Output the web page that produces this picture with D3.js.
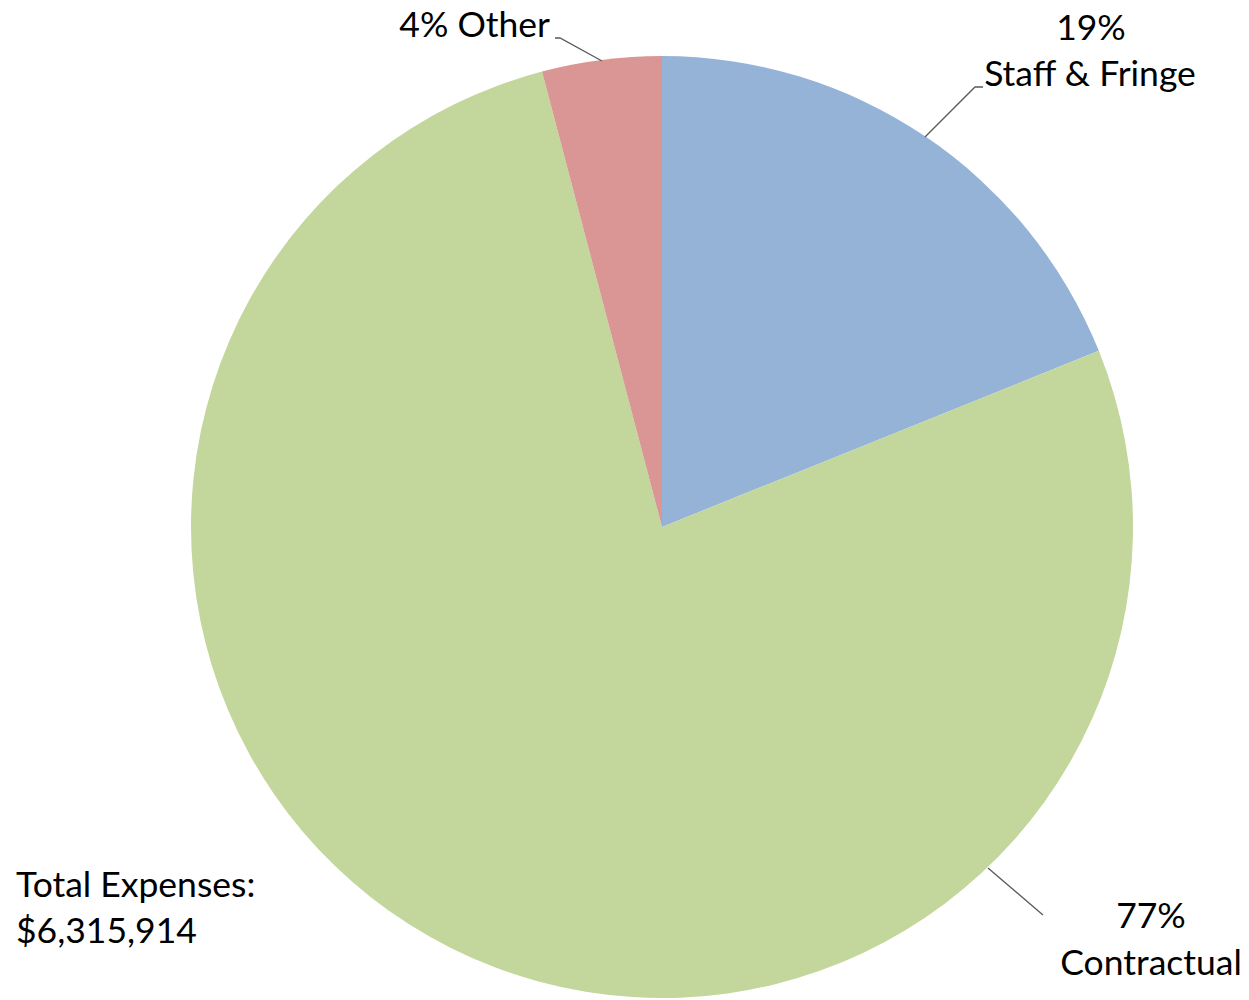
<!DOCTYPE html>
<html><head><meta charset="utf-8">
<script src="https://cdn.jsdelivr.net/npm/d3@7"></script>
<style>body{margin:0;background:#fff}svg{display:block}text{font-family:Lato,"Open Sans",sans-serif;fill:#000}</style>
</head><body>
<svg id="c" width="1249" height="1000"></svg>
<script>
const categories = ["Staff & Fringe", "Contractual", "Other"];
const values = [18.9, 77.0, 4.1];
const pctLabels = ["19%", "77%", "4%"];
const colors = ["#95B3D7", "#C3D69B", "#D99694"];
const totalLabel = ["Total Expenses:", "$6,315,914"];

const svg = d3.select("#c");
const cx = 662, cy = 527, r = 471;
const pie = d3.pie().sort(null).value(d => d.v);
const arcs = pie(values.map((v, i) => ({v, i})));
const arc = d3.arc().innerRadius(0).outerRadius(r);
const g = svg.append("g").attr("transform", `translate(${cx},${cy})`);
g.selectAll("path").data(arcs).join("path")
  .attr("d", arc).attr("fill", d => colors[d.data.i]);

const fs = 35.5;
const line = d3.line();
const leaders = [
  [[983,87],[975,87],[925,137]],
  [[988,868],[1043,915]],
  [[555,38],[560,38],[602,61]]
];
svg.selectAll("path.lead").data(leaders).join("path").attr("class","lead")
  .attr("d", d => line(d)).attr("fill","none").attr("stroke","#595959").attr("stroke-width",1.3);

function lbl(x, y, t, anchor) {
  svg.append("text").attr("x", x).attr("y", y).attr("text-anchor", anchor)
    .attr("font-size", fs).text(t);
}
lbl(1091, 40, pctLabels[0], "middle");
lbl(1090, 86, categories[0], "middle");
lbl(1151, 928, pctLabels[1], "middle");
lbl(1151, 975, categories[1], "middle");
lbl(550, 37, pctLabels[2] + " " + categories[2], "end");
lbl(16, 897, totalLabel[0], "start");
lbl(16, 943, totalLabel[1], "start");
</script>
</body></html>
